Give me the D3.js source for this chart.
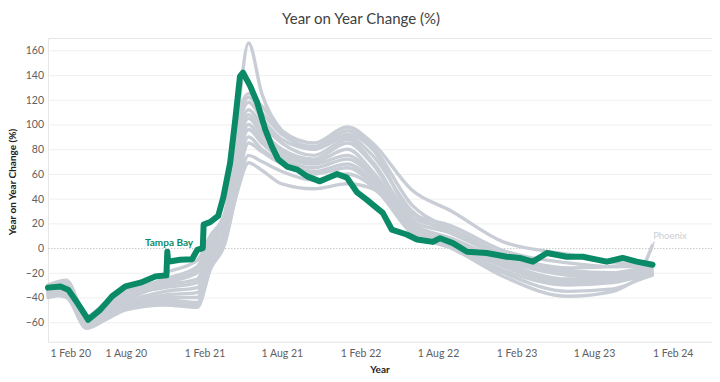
<!DOCTYPE html>
<html>
<head>
<meta charset="utf-8">
<script src="https://cdn.jsdelivr.net/npm/d3@7"></script>
<style>
  html, body { margin: 0; padding: 0; background: #fff; }
  svg { display: block; font-family: Lato, "Open Sans", sans-serif; }
</style>
</head>
<body>
<svg id="chart" width="720" height="382"></svg>
<script>
// ---------- DATA ----------
const yTicks = [-60, -40, -20, 0, 20, 40, 60, 80, 100, 120, 140, 160];
const xTickDates = ["2020-02-01","2020-08-01","2021-02-01","2021-08-01","2022-02-01","2022-08-01","2023-02-01","2023-08-01","2024-02-01"];

const tampaDates = ["2020-02-01","2020-03-01","2020-03-20","2020-04-05","2020-05-05","2020-06-02","2020-06-30","2020-07-31","2020-09-04","2020-10-09","2020-11-04","2020-11-06","2020-11-08","2020-12-06","2021-01-03","2021-01-15","2021-01-28","2021-01-30","2021-02-14","2021-03-05","2021-03-17","2021-04-02","2021-04-14","2021-04-25","2021-05-02","2021-05-19","2021-06-04","2021-06-23","2021-07-09","2021-07-23","2021-08-13","2021-09-06","2021-09-29","2021-10-29","2021-12-08","2021-12-31","2022-01-24","2022-02-16","2022-03-02","2022-03-25","2022-04-15","2022-05-20","2022-06-13","2022-07-20","2022-08-06","2022-09-05","2022-10-08","2022-11-23","2023-01-09","2023-02-08","2023-03-11","2023-04-13","2023-05-29","2023-07-06","2023-08-31","2023-10-07","2023-11-09","2023-12-16"];
const tampaValues = [-32,-31,-34,-42,-58,-50,-39,-31,-28,-23,-22,-3,-11,-9.5,-9,-1.5,0,19,21,26,41,69,104,139,142,131,118,96,82,72,66,63.5,58,54,60,57,45,39,35,28.5,15,11,7,5,8,4,-3,-4,-7,-8,-11,-4,-7,-7,-11,-8,-11,-13.5];

const greyDates = ["2020-02-01","2020-03-15","2020-05-01","2020-06-15","2020-08-01","2020-11-01","2021-01-15","2021-02-15","2021-03-20","2021-04-20","2021-05-15","2021-06-15","2021-08-01","2021-10-15","2022-01-01","2022-03-01","2022-06-01","2022-09-01","2023-01-01","2023-06-01","2023-09-15","2023-11-20","2023-12-15"];
const metroA = [-30,-26,-55,-45,-35,-20,-10,10,28,110,166,125,95,80,90,75,30,12,-5,-20,-22,-18,-17];
const metroB = [-32,-28,-57,-46,-36,-25,-15,8,25,105,125,115,95,85,98,85,47,30,5,-5,-12,-13,-13];
const metroC = [-34,-30,-58,-48,-40,-28,-20,5,20,95,118,105,88,80,92,80,28,18,-2,-12,-15,-15,-15];
const metroD = [-36,-33,-60,-50,-42,-30,-25,2,15,90,112,100,85,75,88,70,25,15,-5,-18,-20,-17,-17];
const metroE = [-30,-28,-56,-44,-38,-32,-28,0,12,85,108,95,80,72,85,68,22,12,-8,-20,-22,-19,-19];
const metroF = [-38,-36,-62,-52,-44,-35,-32,-2,10,80,105,92,78,70,80,62,20,8,-10,-22,-24,-20,-20];
const metroG = [-35,-34,-60,-50,-45,-38,-36,-5,8,75,100,88,75,68,75,60,18,6,-12,-25,-25,-21,-21];
const metroH = [-40,-38,-63,-54,-47,-40,-40,-8,6,70,96,85,72,65,72,58,17,4,-14,-26,-26,-22,-22];
const metroI = [-33,-35,-61,-50,-46,-42,-44,-12,5,65,90,80,70,62,68,55,20,5,-15,-28,-27,-21,-20];
const metroJ = [-37,-40,-64,-56,-48,-44,-46,-15,4,55,85,78,68,60,65,52,16,3,-18,-30,-28,-23,-22];
const metroK = [-35,-38,-65,-58,-50,-46,-48,-17,3,50,75,70,62,55,60,50,14,1,-20,-35,-33,-25,-22];
const metroL = [-36,-37,-62,-55,-49,-45,-47,-16,4,47,69,63,52,48,52,48,12,0,-23,-39,-35,-24,-21];
const phoenix = [-32,-30,-58,-47,-38,-27,-18,6,22,100,122,110,92,82,95,82,35,15,-5,-16,-15,-14,2];
const greySeries = [metroA, metroB, metroC, metroD, metroE, metroF, metroG, metroH, metroI, metroJ, metroK, metroL, phoenix];

// ---------- CHART ----------
const parse = d3.timeParse("%Y-%m-%d");
const svg = d3.select("#chart");
const mLeft = 48, mRight = 712, mTop = 38, mBottom = 342;

const x = d3.scaleTime().domain([parse("2020-02-01"), parse("2024-05-03")]).range([mLeft, mRight]);
const y = d3.scaleLinear().domain([-76, 170]).range([mBottom, mTop]);

// title
svg.append("text").attr("x", 361).attr("y", 24).attr("text-anchor", "middle")
  .attr("font-size", 15).attr("fill", "#404040").text("Year on Year Change (%)");

// grid + y axis
const yAxis = svg.append("g").attr("transform", `translate(${mLeft},0)`)
  .call(d3.axisLeft(y).tickValues(yTicks).tickSize(-(mRight - mLeft)).tickPadding(4));
yAxis.select(".domain").attr("stroke", "#e6e6e6");
yAxis.selectAll(".tick line").attr("stroke", d => d === 0 ? "#c8c8c8" : "#efefef")
  .attr("stroke-dasharray", d => d === 0 ? "1.5,1.5" : null);
yAxis.selectAll(".tick text").attr("font-size", 10.5).attr("fill", "#606060").attr("font-family", "Lato, sans-serif");

// bottom line
svg.append("line").attr("x1", mLeft).attr("x2", mRight).attr("y1", mBottom).attr("y2", mBottom)
  .attr("stroke", "#efefef");

// x axis labels
const xAxis = svg.append("g").attr("transform", `translate(0,${mBottom})`)
  .call(d3.axisBottom(x).tickValues(xTickDates.map(parse)).tickFormat(d3.timeFormat("%-d %b %y")).tickSize(0).tickPadding(8));
xAxis.select(".domain").remove();
xAxis.selectAll(".tick text").attr("font-size", 10.5).attr("fill", "#606060").attr("font-family", "Lato, sans-serif");
xAxis.selectAll(".tick").filter((d, i) => i === 0).select("text").attr("text-anchor", "start").attr("x", 2);

// axis titles
svg.append("text").attr("x", 380).attr("y", 373).attr("text-anchor", "middle")
  .attr("font-size", 10).attr("font-weight", "bold").attr("fill", "#222").text("Year");
svg.append("text").attr("transform", "translate(16,182) rotate(-90)").attr("text-anchor", "middle")
  .attr("font-size", 10).attr("font-weight", "bold").attr("fill", "#222").text("Year on Year Change (%)");

// lines
const line = d3.line().x(d => x(d[0])).y(d => y(d[1])).curve(d3.curveMonotoneX);
const gDates = greyDates.map(parse);
svg.append("g").selectAll("path").data(greySeries).join("path")
  .attr("d", s => line(s.map((v, i) => [gDates[i], v])))
  .attr("fill", "none").attr("stroke", "#c9ced6").attr("stroke-width", 3.4)
  .attr("stroke-linejoin", "round").attr("stroke-linecap", "round");

const tDates = tampaDates.map(parse);
const tampaLine = d3.line().x(d => x(d[0])).y(d => y(d[1])).curve(d3.curveLinear);
svg.append("path").attr("d", tampaLine(tampaValues.map((v, i) => [tDates[i], v])))
  .attr("fill", "none").attr("stroke", "#0b8a68").attr("stroke-width", 6)
  .attr("stroke-linejoin", "round").attr("stroke-linecap", "round");

// labels
svg.append("text").attr("x", 169).attr("y", 246).attr("text-anchor", "middle")
  .attr("font-size", 10).attr("font-weight", "bold").attr("fill", "#0b8a68").text("Tampa Bay");

const pEnd = [gDates[gDates.length - 1], phoenix[phoenix.length - 1]];
svg.append("line").attr("x1", x(pEnd[0]) - 1).attr("y1", y(pEnd[1]) + 6)
  .attr("x2", x(pEnd[0]) + 2).attr("y2", y(pEnd[1]) - 4).attr("stroke", "#c9ced6").attr("stroke-width", 1.5);
svg.append("text").attr("x", x(pEnd[0]) + 1).attr("y", y(pEnd[1]) - 7)
  .attr("font-size", 9.5).attr("fill", "#c9ced6").text("Phoenix");
</script>
</body>
</html>
